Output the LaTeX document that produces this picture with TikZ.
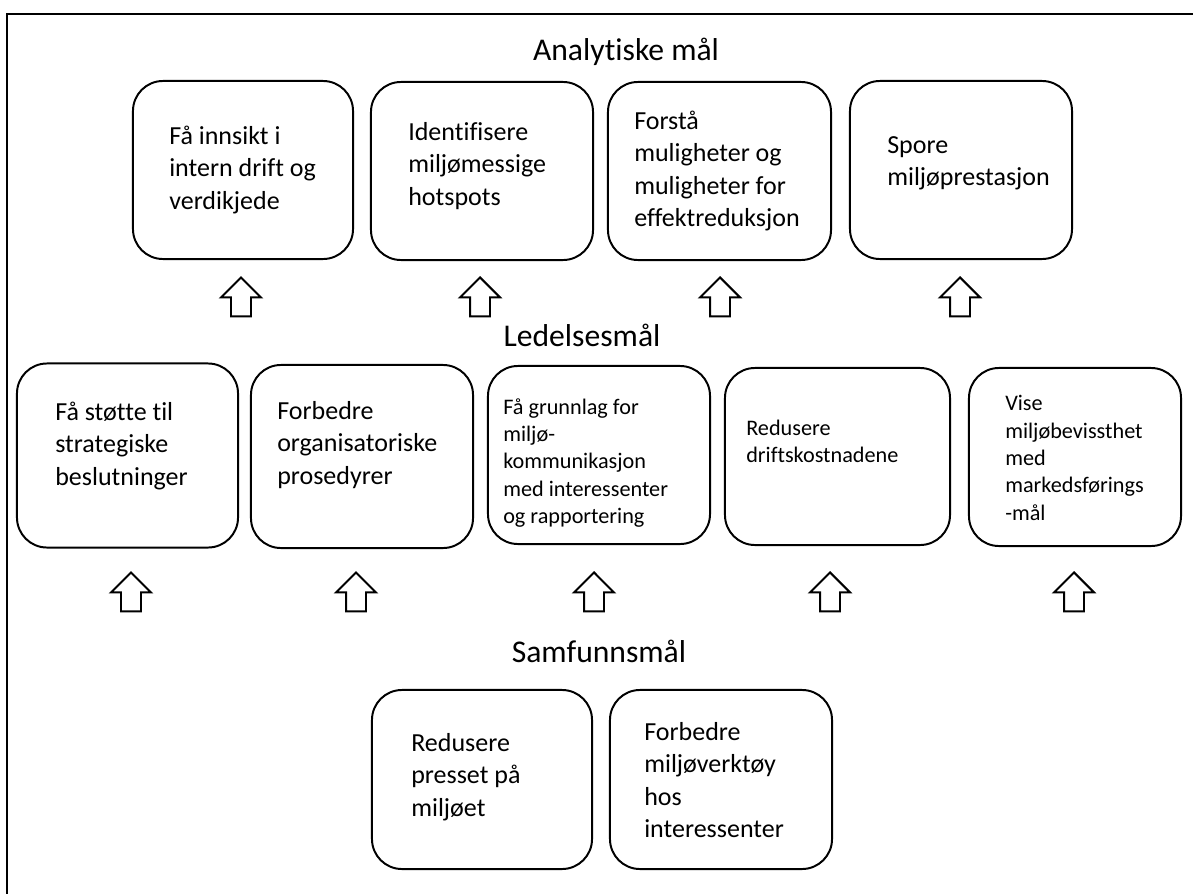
\documentclass[tikz,border=0pt]{standalone}
\usepackage{fontspec}
\setmainfont{Carlito}[Ligatures=NoCommon]
\usetikzlibrary{shapes.arrows, positioning}

\begin{document}
\begin{tikzpicture}[
    x=0.025cm, y=-0.025cm,
    goal/.style={rectangle, rounded corners=0.75cm, draw=black, line width=1.4pt, minimum width=5.55cm, minimum height=4.45cm},
    goaltext/.style={anchor=west, align=left, inner sep=0pt, font=\fontsize{18.5}{23}\selectfont},
    smalltext/.style={anchor=west, align=left, inner sep=0pt, font=\fontsize{15.8}{19.5}\selectfont},
    level/.style={anchor=base, inner sep=0pt, font=\fontsize{22.5}{26}\selectfont},
    uparrow/.style={single arrow, shape border rotate=90, draw=black, line width=1.4pt, inner sep=0.225cm, single arrow head extend=0.25cm, minimum height=0.975cm, minimum width=0.95cm, anchor=tip},
    frame/.style={draw=black, line width=1.4pt}
]
\useasboundingbox (0,0) rectangle (1193,894);

% Frame
\draw[frame] (7,894) -- (7,14) -- (1193,14);

% Levels
\node[level] (analytisk) at (626,60) {Analytiske mål};
\node[level] (ledelse) at (582,346) {Ledelsesmål};
\node[level] (samfunn) at (599,662) {Samfunnsmål};

% Analytical goals
\node[goal, minimum width=5.5cm] (a1) at (243,170) {};
\node[goal] (a2) at (482,171) {};
\node[goal, minimum width=5.575cm] (a3) at (719.5,171) {};
\node[goal] (a4) at (961,170) {};

\node[goaltext] (a1t) at (169,170) {Få innsikt i\\intern drift og\\verdikjede};
\node[goaltext] (a2t) at (408,166) {Identifisere\\miljømessige\\hotspots};
\node[goaltext] (a3t) at (634,171) {Forstå\\muligheter og\\muligheter for\\effektreduksjon};
\node[goaltext] (a4t) at (887,163) {Spore\\miljøprestasjon};

% Management goals
\node[goal, minimum width=5.525cm, minimum height=4.6cm] (b1) at (127.5,455.5) {};
\node[goal, minimum height=4.575cm] (b2) at (362,456.5) {};
\node[goal] (b3) at (599,455) {};
\node[goal, minimum width=5.625cm, minimum height=4.425cm] (b4) at (837.5,456.5) {};
\node[goal, minimum width=5.3cm] (b5) at (1075,457) {};

\node[goaltext] (b1t) at (55,446) {Få støtte til\\strategiske\\beslutninger};
\node[goaltext] (b2t) at (277,445) {Forbedre\\organisatoriske\\prosedyrer};
\node[smalltext] (b3t) at (503,463) {Få grunnlag for\\miljø-\\kommunikasjon\\med interessenter\\og rapportering};
\node[smalltext] (b4t) at (746,441.5) {Redusere\\driftskostnadene};
\node[smalltext] (b5t) at (1005,458) {Vise\\miljøbevissthet\\med\\markedsførings\\-mål};

% Societal goals
\node[goal, minimum width=5.5cm, minimum height=4.475cm] (c1) at (482,779.5) {};
\node[goal, minimum height=4.475cm] (c2) at (721,779.5) {};

\node[goaltext] (c1t) at (411,777) {Redusere\\presset på\\miljøet};
\node[goaltext] (c2t) at (644,780) {Forbedre\\miljøverktøy\\hos\\interessenter};

% Arrows
\node[uparrow] (ua1) at (241,276) {};
\node[uparrow] (ua2) at (480,276) {};
\node[uparrow] (ua3) at (720,276) {};
\node[uparrow] (ua4) at (960,276) {};

\node[uparrow] (ub1) at (131,571) {};
\node[uparrow] (ub2) at (356,571) {};
\node[uparrow] (ub3) at (594,571) {};
\node[uparrow] (ub4) at (830,571) {};
\node[uparrow] (ub5) at (1074,571) {};

\end{tikzpicture}
\end{document}
